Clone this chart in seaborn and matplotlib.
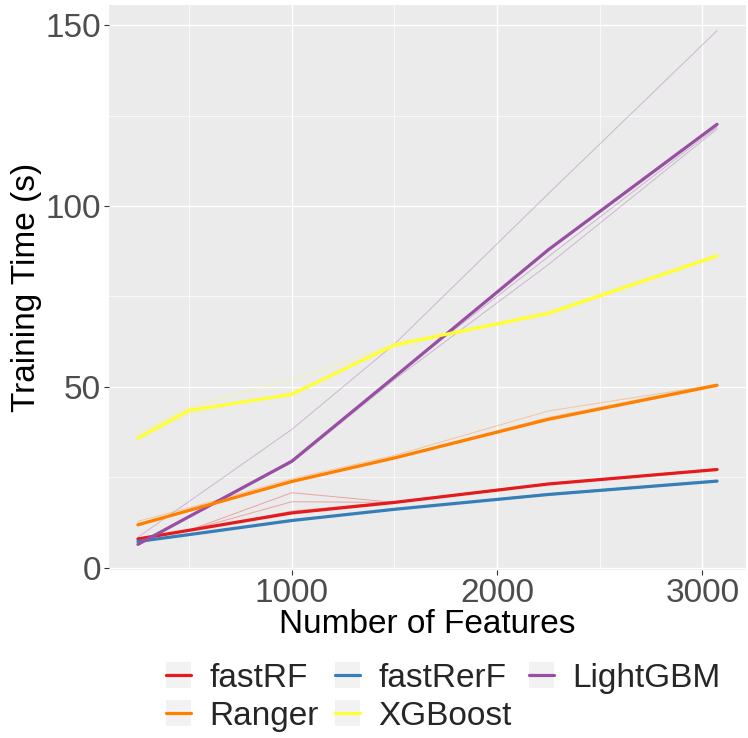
import seaborn as sns
import matplotlib.pyplot as plt
import pandas as pd
from matplotlib.lines import Line2D
from matplotlib.patches import Patch
from matplotlib.legend_handler import HandlerTuple
from matplotlib.ticker import MultipleLocator

# feature counts shared by all models
features = [250, 500, 1000, 1500, 2250, 3072]

models = ['fastRF', 'fastRerF', 'LightGBM', 'Ranger', 'XGBoost']
colors = ['#E41A1C', '#377EB8', '#984EA3', '#FF7F00', '#FFFF33']

# thick lines (summary per model)
fastrf_time = [7.9, 10.3, 15.1, 18.0, 23.1, 27.1]
fastrerf_time = [7.2, 9.1, 13.0, 16.1, 20.2, 23.9]
lightgbm_time = [6.4, 14.1, 29.4, 52.7, 87.9, 122.6]
ranger_time = [11.8, 15.8, 23.8, 30.3, 41.0, 50.4]
xgboost_time = [35.8, 43.5, 47.9, 61.6, 70.3, 86.2]

# thin lines (individual runs)
fastrf_runs = [[7.9, 10.3, 20.7, 18.0, 23.1, 27.1],
               [7.9, 10.3, 18.2, 18.0, 23.1, 27.1],
               [7.7, 10.1, 15.6, 18.2, 23.3, 27.3]]
fastrerf_runs = [[7.0, 9.0, 13.2, 16.0, 20.4, 24.1],
                 [7.3, 9.2, 12.8, 16.2, 20.0, 23.7]]
lightgbm_runs = [[8.4, 18.3, 38.2, 61.8, 103.4, 148.5],
                 [6.4, 14.1, 29.0, 52.0, 83.8, 121.3],
                 [6.6, 14.3, 29.6, 52.9, 86.0, 121.8]]
ranger_runs = [[12.8, 16.5, 24.5, 31.0, 43.3, 50.6],
               [12.2, 16.0, 23.5, 30.5, 41.5, 50.8]]
xgboost_runs = [[37.0, 44.5, 52.0, 61.6, 70.8, 86.6],
                [35.5, 42.5, 48.5, 61.0, 70.0, 85.8]]

summary = dict(zip(models, [fastrf_time, fastrerf_time, lightgbm_time, ranger_time, xgboost_time]))
runs = dict(zip(models, [fastrf_runs, fastrerf_runs, lightgbm_runs, ranger_runs, xgboost_runs]))

rows = []
for m in models:
    for f, t in zip(features, summary[m]):
        rows.append({'features': f, 'time': t, 'model': m})
mean_df = pd.DataFrame(rows)

rows = []
for m in models:
    for i, r in enumerate(runs[m]):
        for f, t in zip(features, r):
            rows.append({'features': f, 'time': t, 'model': m, 'run': i})
runs_df = pd.DataFrame(rows)

sns.set_style("darkgrid", {"axes.facecolor": "#EBEBEB", "grid.color": "white"})
plt.rcParams['font.family'] = ['Liberation Sans', 'DejaVu Sans']

fig = plt.figure(figsize=(7.48, 7.38), dpi=100)
ax = fig.add_axes([0.1457, 0.2276, 0.9973 - 0.1457, 0.9932 - 0.2276])

palette = dict(zip(models, colors))
sns.lineplot(data=runs_df, x='features', y='time', hue='model', units='run',
             estimator=None, palette=palette, hue_order=models,
             linewidth=0.7, alpha=0.35, legend=False, ax=ax)
sns.lineplot(data=mean_df, x='features', y='time', hue='model',
             palette=palette, hue_order=models,
             linewidth=2.3, legend=False, ax=ax)

ax.set_xlim(109, 3213)
ax.set_ylim(-0.7, 155.6)
ax.xaxis.set_major_locator(MultipleLocator(1000))
ax.xaxis.set_minor_locator(MultipleLocator(500))
ax.yaxis.set_major_locator(MultipleLocator(50))
ax.yaxis.set_minor_locator(MultipleLocator(25))
ax.grid(which='major', color='white', linewidth=1.0)
ax.grid(which='minor', color='white', linewidth=0.5)
for s in ax.spines.values():
    s.set_visible(False)

ax.tick_params(axis='both', which='major', labelsize=24, labelcolor='#4D4D4D',
               length=3.4, width=0.8, color='#333333', pad=2.5, bottom=True, left=True)
ax.tick_params(axis='both', which='minor', length=0)
ax.set_xlabel('Number of Features', fontsize=24, color='black', labelpad=0)
ax.set_ylabel('Training Time (s)', fontsize=24, color='black', labelpad=2)

# legend filled row by row like ggplot (matplotlib fills columns)
order = [0, 3, 1, 4, 2]
handles = [(Patch(facecolor='#F2F2F2', edgecolor='none'), Line2D([], [], color=colors[i], linewidth=2.3))
           for i in order]
labels = [models[i] for i in order]
fig.legend(handles, labels, handler_map={tuple: HandlerTuple(ndivide=1, pad=0)},
           loc='center', bbox_to_anchor=(443 / 748, 1 - 697 / 738), ncol=3,
           frameon=False, fontsize=24, handlelength=0.75, handleheight=0.8,
           handletextpad=0.55, columnspacing=0.5, labelspacing=0.2)

plt.savefig('out.png', dpi=100)
